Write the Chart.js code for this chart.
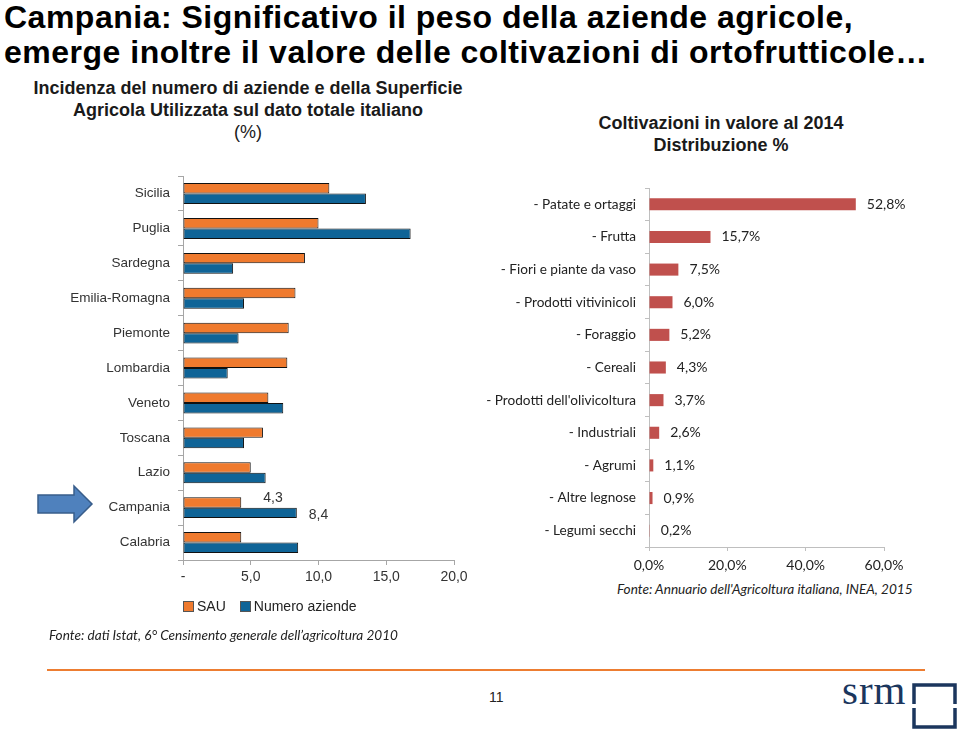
<!DOCTYPE html>
<html>
<head>
<meta charset="utf-8">
<script src="https://cdn.jsdelivr.net/npm/chart.js@4/dist/chart.umd.min.js"></script>
<style>
  html, body { margin:0; padding:0; background:#fff; }
  body { width:959px; height:730px; position:relative; overflow:hidden; font-family:"Liberation Sans", Arial, sans-serif; }
  .abs { position:absolute; }
  #title { left:4px; top:0px; font-weight:bold; font-size:32px; letter-spacing:0.5px; line-height:35px; color:#000; white-space:nowrap; }
  #subL { left:0px; width:496px; top:77px; text-align:center; font-weight:bold; font-size:18px; line-height:22px; color:#1a1a1a; }
  #subR { left:521px; width:400px; top:112px; text-align:center; font-weight:bold; font-size:18px; line-height:22px; color:#1a1a1a; }
  #wrapL { left:0px; top:160px; width:480px; height:440px; }
  #wrapR { left:480px; top:170px; width:479px; height:410px; }
  #legendL { left:183px; top:598px; font-size:14px; color:#222; white-space:nowrap; }
  #legendL span.box { display:inline-block; width:9px; height:9px; border:1px solid #555; margin-right:3px; vertical-align:-1px; }
  #legendL span.item { margin-right:14px; }
  .fonte { font-family:Lato, "Open Sans", sans-serif; font-style:italic; font-size:13.6px; color:#222; white-space:nowrap; }
  #fonteL { left:49px; top:627px; }
  #fonteR { left:617px; top:581px; }
  #rule { left:47px; top:669px; width:878px; height:2px; background:#ED7D31; }
  #page { left:489px; top:689px; font-size:14px; color:#222; }
  #srm { left:842px; top:670px; font-family:"Liberation Serif", "DejaVu Serif", serif; font-size:41px; line-height:40px; color:#1B365D; letter-spacing:1px; }
</style>
</head>
<body>
<div id="title" class="abs">Campania: Significativo il peso della aziende agricole,<br>emerge inoltre il valore delle coltivazioni di ortofrutticole…</div>
<div id="subL" class="abs">Incidenza del numero di aziende e della Superficie<br>Agricola Utilizzata sul dato totale italiano<br><span style="font-weight:normal">(%)</span></div>
<div id="subR" class="abs">Coltivazioni in valore al 2014<br>Distribuzione %</div>

<svg class="abs" style="left:36px;top:484px" width="60" height="42" viewBox="0 0 60 42">
  <polygon points="2,11 38,11 38,2 56,20 38,38 38,29 2,29" fill="#4F81BD" stroke="#385D8A" stroke-width="1.5"/>
</svg>

<div id="wrapL" class="abs"><canvas id="chartL"></canvas></div>
<div id="legendL" class="abs"></div>
<div id="wrapR" class="abs"><canvas id="chartR"></canvas></div>

<div id="fonteL" class="abs fonte">Fonte: dati Istat, 6° Censimento generale dell’agricoltura 2010</div>
<div id="fonteR" class="abs fonte">Fonte: Annuario dell'Agricoltura italiana, INEA, 2015</div>
<div id="rule" class="abs"></div>
<div id="page" class="abs">11</div>
<div id="srm" class="abs">srm</div>
<svg class="abs" style="left:911px;top:682px" width="48" height="48" viewBox="0 0 48 48">
  <path d="M3,22 L3,3 L44,3 L44,22" fill="none" stroke="#1B365D" stroke-width="3.5"/>
  <path d="M3,26 L3,45 L44,45 L44,26" fill="none" stroke="#1B365D" stroke-width="3.5"/>
</svg>

<script>
// ---- Data: left chart ----
const regions = ['Sicilia','Puglia','Sardegna','Emilia-Romagna','Piemonte','Lombardia','Veneto','Toscana','Lazio','Campania','Calabria'];
const sauValues = [10.8, 10.0, 9.0, 8.3, 7.8, 7.7, 6.3, 5.9, 5.0, 4.3, 4.3];
const aziendeValues = [13.5, 16.8, 3.7, 4.5, 4.1, 3.3, 7.4, 4.5, 6.1, 8.4, 8.5];
const seriesNames = ['SAU', 'Numero aziende'];
const leftTickLabels = ['-', '5,0', '10,0', '15,0', '20,0'];
const labelledRegions = ['Campania'];

// ---- Data: right chart ----
const crops = ['- Patate e ortaggi','- Frutta','- Fiori e piante da vaso','- Prodotti vitivinicoli','- Foraggio','- Cereali',"- Prodotti dell'olivicoltura",'- Industriali','- Agrumi','- Altre legnose','- Legumi secchi'];
const cropShares = [52.8, 15.7, 7.5, 6.0, 5.2, 4.3, 3.7, 2.6, 1.1, 0.9, 0.2];
const rightTickLabels = ['0,0%', '20,0%', '40,0%', '60,0%'];

const colSAU = '#EF7A2E';
const colAz = '#0F6497';
const colCrop = '#C0504D';

const fmt1 = v => v.toFixed(1).replace('.', ',');

// value label plugin
const valueLabels = {
  id: 'valueLabels',
  afterDatasetsDraw(chart, args, opts) {
    const ctx = chart.ctx;
    ctx.save();
    ctx.font = opts.font;
    ctx.fillStyle = opts.color;
    ctx.textBaseline = 'middle';
    ctx.textAlign = 'left';
    chart.data.datasets.forEach((ds, di) => {
      const meta = chart.getDatasetMeta(di);
      const off = (opts.offsets && opts.offsets[di]) || {dx: 10, dy: 0};
      meta.data.forEach((el, i) => {
        const cat = chart.data.labels[i];
        if (opts.only && !opts.only.includes(cat)) return;
        ctx.fillText(opts.format(ds.data[i]), el.x + off.dx, el.y + off.dy);
      });
    });
    ctx.restore();
  }
};

// ---- Left chart ----
new Chart(document.getElementById('chartL'), {
  type: 'bar',
  data: {
    labels: regions,
    datasets: [
      { label: seriesNames[0], data: sauValues, backgroundColor: colSAU, borderColor: '#111', borderWidth: 1, borderSkipped: false },
      { label: seriesNames[1], data: aziendeValues, backgroundColor: colAz, borderColor: '#111', borderWidth: 1, borderSkipped: false }
    ]
  },
  options: {
    indexAxis: 'y',
    responsive: true,
    maintainAspectRatio: false,
    animation: false,
    layout: { padding: { top: 6, right: 26, left: 0, bottom: 0 } },
    datasets: { bar: { categoryPercentage: 0.6, barPercentage: 1.0 } },
    scales: {
      x: {
        min: 0, max: 20,
        ticks: { stepSize: 5, color: '#333', font: { family: 'Liberation Sans', size: 14 }, padding: 4,
                 callback: (v, i) => leftTickLabels[i] },
        grid: { drawOnChartArea: false, color: '#A6A6A6', tickLength: 5 },
        border: { color: '#A6A6A6' },
        afterFit: s => { s.height = 40; }
      },
      y: {
        ticks: { color: '#333', font: { family: 'Liberation Sans', size: 13.5 }, padding: 8 },
        grid: { drawOnChartArea: false, color: '#A6A6A6', tickLength: 5, offset: true },
        border: { color: '#A6A6A6' },
        afterFit: s => { s.width = 183; }
      }
    },
    plugins: {
      legend: { display: false },
      tooltip: { enabled: false },
      valueLabels: {
        font: '14px "Liberation Sans"', color: '#333', only: labelledRegions, format: fmt1,
        offsets: [{dx: 22, dy: -4}, {dx: 12, dy: 2}]
      }
    }
  },
  plugins: [valueLabels]
});

// left legend (HTML)
const leg = document.getElementById('legendL');
[[seriesNames[0], colSAU], [seriesNames[1], colAz]].forEach(([n, c]) => {
  const it = document.createElement('span');
  it.className = 'item';
  it.innerHTML = '<span class="box" style="background:' + c + '"></span>' + n;
  leg.appendChild(it);
});

// ---- Right chart ----
new Chart(document.getElementById('chartR'), {
  type: 'bar',
  data: {
    labels: crops,
    datasets: [{ label: 'Distribuzione %', data: cropShares, backgroundColor: colCrop, borderWidth: 0 }]
  },
  options: {
    indexAxis: 'y',
    responsive: true,
    maintainAspectRatio: false,
    animation: false,
    layout: { padding: { top: 18, right: 75, left: 0, bottom: 0 } },
    datasets: { bar: { categoryPercentage: 0.37, barPercentage: 1.0 } },
    scales: {
      x: {
        min: 0, max: 60,
        ticks: { stepSize: 20, color: '#222', font: { family: 'Lato', size: 14 }, padding: 6,
                 callback: (v, i) => rightTickLabels[i] },
        grid: { drawOnChartArea: false, color: '#BFBFBF', tickLength: 4 },
        border: { color: '#BFBFBF' },
        afterFit: s => { s.height = 33; }
      },
      y: {
        ticks: { color: '#222', font: { family: 'Lato', size: 13.6 }, padding: 9 },
        grid: { drawOnChartArea: false, color: '#BFBFBF', tickLength: 4, offset: true },
        border: { color: '#BFBFBF' },
        afterFit: s => { s.width = 169; }
      }
    },
    plugins: {
      legend: { display: false },
      tooltip: { enabled: false },
      valueLabels: {
        font: '14px Lato', color: '#222', format: v => fmt1(v) + '%',
        offsets: [{dx: 11, dy: 0}]
      }
    }
  },
  plugins: [valueLabels]
});
</script>
</body>
</html>
